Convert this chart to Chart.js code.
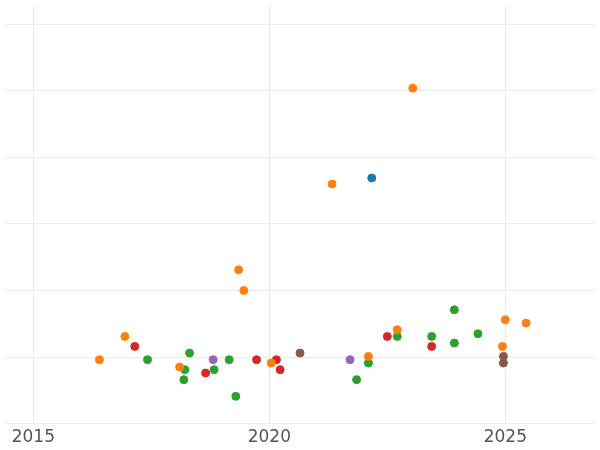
<!DOCTYPE html><html><head><script src="https://cdn.jsdelivr.net/npm/chart.js@4"></script>
<style>body{margin:0}#w{width:600px;height:450px}</style></head><body><div id="w"><canvas id="c"></canvas></div>
<script>
const blueX=[2022.17], blueY=[2.69];
const orangeX=[2016.40,2016.94,2018.10,2019.35,2019.46,2020.04,2021.33,2022.10,2022.71,2023.04,2024.94,2025.0,2025.44];
const orangeY=[-0.04,0.31,-0.15,1.31,1.0,-0.09,2.60,0.01,0.41,4.04,0.16,0.56,0.51];
const greenX=[2017.42,2018.19,2018.21,2018.31,2018.83,2019.15,2019.29,2021.85,2022.10,2022.71,2023.44,2023.92,2023.92,2024.42];
const greenY=[-0.04,-0.34,-0.19,0.06,-0.19,-0.04,-0.59,-0.34,-0.09,0.31,0.31,0.71,0.21,0.35];
const redX=[2017.15,2018.65,2019.73,2020.15,2020.23,2022.5,2023.44];
const redY=[0.16,-0.24,-0.04,-0.04,-0.19,0.31,0.16];
const purpleX=[2018.81,2021.71], purpleY=[-0.04,-0.04];
const brownX=[2020.65,2024.96,2024.96], brownY=[0.06,0.01,-0.09];
const xTicks=[2015,2020,2025];
const mk=(xs,ys,c)=>({data:xs.map((x,i)=>({x,y:ys[i]})),backgroundColor:c,borderColor:c,pointRadius:4,pointHoverRadius:4});
new Chart(document.getElementById('c'),{type:'scatter',data:{datasets:[
mk(blueX,blueY,'#1f77b4'),mk(orangeX,orangeY,'#ff7f0e'),mk(greenX,greenY,'#2ca02c'),
mk(redX,redY,'#d62728'),mk(purpleX,purpleY,'#9467bd'),mk(brownX,brownY,'#8c564b')]},
options:{responsive:true,maintainAspectRatio:false,animation:false,layout:{padding:{left:-6,right:-6,top:-6,bottom:-2}},
plugins:{legend:{display:false},tooltip:{enabled:false}},
scales:{x:{min:2014.4,max:2026.9,afterBuildTicks:s=>{s.ticks=xTicks.map(v=>({value:v}));},
 grid:{color:'#e8e8e8',drawTicks:false},border:{display:false},
 ticks:{color:'#555',font:{size:17,family:'DejaVu Sans'},padding:4,callback:v=>String(v)}},
y:{min:-1,max:5.29,afterBuildTicks:s=>{s.ticks=[-1,0,1,2,3,4,5].map(v=>({value:v}));},
 grid:{color:'#ececec',drawTicks:false},border:{display:false},ticks:{display:false}}}}});
</script></body></html>
